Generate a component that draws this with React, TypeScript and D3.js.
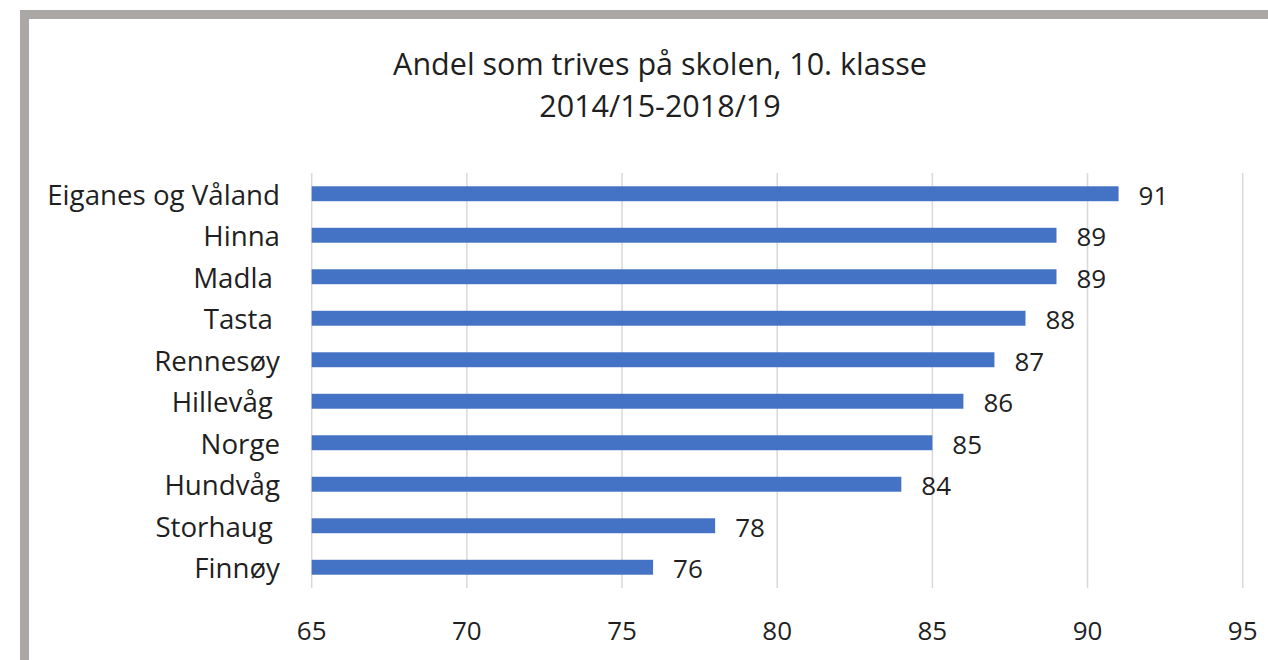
import React from 'react';
import * as d3 from 'd3';

// Chart data
const categories = [
  'Eiganes og Våland',
  'Hinna',
  'Madla ',
  'Tasta ',
  'Rennesøy',
  'Hillevåg ',
  'Norge',
  'Hundvåg',
  'Storhaug ',
  'Finnøy',
];
const values = [91, 89, 89, 88, 87, 86, 85, 84, 78, 76];
const xTicks = [65, 70, 75, 80, 85, 90, 95];
const titleLines = ['Andel som trives på skolen, 10. klasse', '2014/15-2018/19'];

const width = 1268;
const height = 660;
const plot = { left: 311.7, right: 1242.7, top: 173, bottom: 588 };
const font = '"Open Sans", sans-serif';
const textColor = '#1f1f1f';

export default function App() {
  const x = d3.scaleLinear().domain([65, 95]).range([plot.left, plot.right]);
  const y = d3
    .scaleBand<string>()
    .domain(categories)
    .range([plot.top, plot.bottom])
    .paddingInner(0.64)
    .paddingOuter(0.32);

  return (
    <svg
      width={width}
      height={height}
      style={{ position: 'absolute', left: 0, top: 0, background: '#fff' }}
      fontFamily={font}
    >
      {/* frame */}
      <rect x={24.5} y={14.5} width={1400} height={800} fill="#fff" stroke="#aba7a5" strokeWidth={9} />

      {/* title */}
      {titleLines.map((t, i) => (
        <text
          key={t}
          x={660}
          y={i === 0 ? 75 : 117}
          textAnchor="middle"
          fontSize={30.5}
          fill={textColor}
        >
          {t}
        </text>
      ))}

      {/* gridlines */}
      {xTicks.map((t) => (
        <line
          key={t}
          x1={x(t)}
          x2={x(t)}
          y1={plot.top}
          y2={plot.bottom}
          stroke="#d9d9d9"
          strokeWidth={1.5}
        />
      ))}

      {/* bars */}
      {categories.map((c, i) => (
        <rect
          key={c}
          x={x(65)}
          y={y(c)}
          width={x(values[i]) - x(65)}
          height={y.bandwidth()}
          fill="#4472c4"
        />
      ))}

      {/* value labels */}
      {categories.map((c, i) => (
        <text
          key={c}
          x={x(values[i]) + 20}
          y={(y(c) || 0) + y.bandwidth() / 2 + 1}
          dominantBaseline="central"
          fontSize={26}
          fill={textColor}
        >
          {values[i]}
        </text>
      ))}

      {/* category labels */}
      {categories.map((c) => (
        <text
          key={c}
          x={280}
          y={(y(c) || 0) + y.bandwidth() / 2}
          textAnchor="end"
          dominantBaseline="central"
          fontSize={27.7}
          fill={textColor}
          style={{ whiteSpace: 'pre' }}
        >
          {c}
        </text>
      ))}

      {/* x tick labels */}
      {xTicks.map((t) => (
        <text
          key={t}
          x={x(t)}
          y={630}
          textAnchor="middle"
          dominantBaseline="central"
          fontSize={26}
          fill={textColor}
        >
          {t}
        </text>
      ))}
    </svg>
  );
}
